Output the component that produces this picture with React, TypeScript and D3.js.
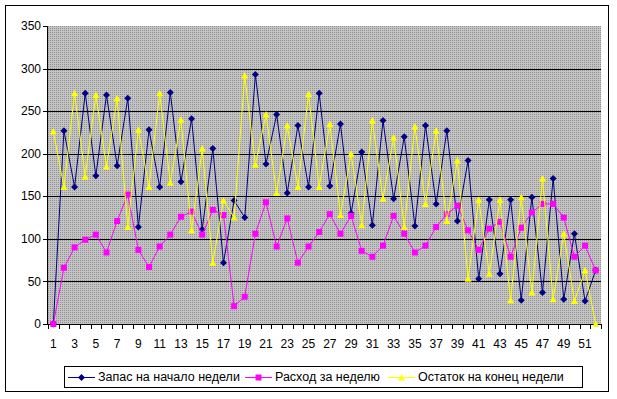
import * as d3 from 'd3';

const weeks = d3.range(1, 53);
const stockStart = [0, 227, 161, 271, 174, 269, 186, 265, 114, 228, 161, 272, 167, 241, 111, 206, 72, 145, 125, 293, 188, 246, 154, 233, 161, 271, 162, 235, 130, 202, 116, 239, 147, 220, 115, 233, 141, 227, 121, 192, 53, 146, 59, 146, 28, 149, 37, 171, 29, 106, 27, 63];
const usage = [0, 66, 90, 99, 105, 84, 121, 152, 87, 67, 91, 105, 126, 132, 105, 134, 128, 21, 32, 106, 143, 91, 124, 72, 91, 108, 129, 106, 127, 86, 79, 92, 127, 106, 84, 92, 114, 129, 139, 110, 87, 112, 120, 79, 113, 131, 141, 141, 125, 79, 92, 63];
const stockEnd = [226, 161, 271, 173, 269, 185, 265, 114, 228, 161, 271, 166, 240, 110, 206, 72, 145, 125, 292, 187, 246, 154, 233, 161, 270, 161, 235, 128, 200, 116, 239, 147, 219, 114, 232, 141, 227, 121, 192, 53, 146, 59, 146, 28, 149, 37, 171, 29, 106, 27, 63, 0];
const yTicks = [0, 50, 100, 150, 200, 250, 300, 350];
const seriesNames = ['Запас на начало недели', 'Расход за неделю', 'Остаток на конец недели'];

const W = 617;
const H = 399;
const plot = { left: 48, right: 601, top: 26, bottom: 324 };
const font = 'Liberation Sans, Arial, sans-serif';

type Shape = 'diamond' | 'square' | 'triangle';

const marker = (shape: Shape, x: number, y: number) => {
  if (shape === 'diamond') return `M${x},${y - 3.5}L${x + 3.5},${y}L${x},${y + 3.5}L${x - 3.5},${y}Z`;
  if (shape === 'square') return `M${x - 3},${y - 3}h6v6h-6Z`;
  return `M${x},${y - 3.5}L${x + 3.5},${y + 3}L${x - 3.5},${y + 3}Z`;
};

const series: { name: string; values: number[]; color: string; shape: Shape }[] = [
  { name: seriesNames[0], values: stockStart, color: '#000080', shape: 'diamond' },
  { name: seriesNames[1], values: usage, color: '#FF00FF', shape: 'square' },
  { name: seriesNames[2], values: stockEnd, color: '#FFFF00', shape: 'triangle' },
];

export default function App() {
  const x = d3.scaleBand<number>().domain(weeks).range([plot.left, plot.right]).padding(0);
  const y = d3.scaleLinear().domain([0, 350]).range([plot.bottom, plot.top]);
  const cx = (w: number) => (x(w) as number) + x.bandwidth() / 2;
  const line = d3
    .line<number>()
    .x((_, i) => cx(weeks[i]))
    .y((d) => y(d));

  const bounds = [...weeks.map((w) => x(w) as number), plot.right];

  // legend layout: line sample, then text
  const legendItems = [
    { x0: 68, tx: 98 },
    { x0: 245, tx: 275 },
    { x0: 388, tx: 418 },
  ];

  return (
    <svg width={W} height={H} style={{ position: 'absolute', left: 0, top: 0 }} fontFamily={font}>
      <defs>
        <pattern id="dots" width="2" height="2" patternUnits="userSpaceOnUse">
          <rect width="2" height="2" fill="#c4c4c4" />
          <rect width="1" height="1" fill="#929292" />
        </pattern>
      </defs>
      <rect x={0} y={0} width={W} height={H} fill="#fff" />
      <rect x={5.5} y={5.5} width={603} height={386} fill="#fff" stroke="#000" strokeWidth={1} />

      <rect x={plot.left} y={plot.top} width={plot.right - plot.left} height={plot.bottom - plot.top} fill="url(#dots)" />

      {yTicks.slice(1, -1).map((t) => (
        <line key={t} x1={plot.left} x2={plot.right} y1={Math.round(y(t)) + 0.5} y2={Math.round(y(t)) + 0.5} stroke="#000" />
      ))}

      {/* axes */}
      <line x1={plot.left - 0.5} x2={plot.left - 0.5} y1={plot.top} y2={plot.bottom} stroke="#000" />
      <line x1={plot.left} x2={plot.right} y1={plot.bottom + 0.5} y2={plot.bottom + 0.5} stroke="#000" />
      {yTicks.map((t) => (
        <g key={t}>
          <line x1={plot.left - 5} x2={plot.left} y1={Math.round(y(t)) + 0.5} y2={Math.round(y(t)) + 0.5} stroke="#000" />
          <text x={plot.left - 7} y={y(t)} dy="0.35em" textAnchor="end" fontSize={12}>
            {t}
          </text>
        </g>
      ))}
      {bounds.map((b, i) => (
        <line key={i} x1={Math.round(b) + 0.5} x2={Math.round(b) + 0.5} y1={plot.bottom} y2={plot.bottom + 5} stroke="#000" />
      ))}
      {weeks
        .filter((w) => w % 2 === 1)
        .map((w) => (
          <text key={w} x={cx(w)} y={plot.bottom + 24} textAnchor="middle" fontSize={12}>
            {w}
          </text>
        ))}

      {series.map((s) => (
        <g key={s.name}>
          <path d={line(s.values) || ''} fill="none" stroke={s.color} strokeWidth={1} />
          {s.values.map((v, i) => (
            <path key={i} d={marker(s.shape, cx(weeks[i]), y(v))} fill={s.color} />
          ))}
        </g>
      ))}

      {/* legend */}
      <rect x={64.5} y={366.5} width={518} height={21} fill="#fff" stroke="#000" />
      {series.map((s, i) => (
        <g key={s.name}>
          <line x1={legendItems[i].x0} x2={legendItems[i].x0 + 27} y1={377.5} y2={377.5} stroke={s.color} />
          <path d={marker(s.shape, legendItems[i].x0 + 13.5, 377.5)} fill={s.color} />
          <text x={legendItems[i].tx} y={377} dy="0.35em" fontSize={12.5}>
            {s.name}
          </text>
        </g>
      ))}
    </svg>
  );
}
